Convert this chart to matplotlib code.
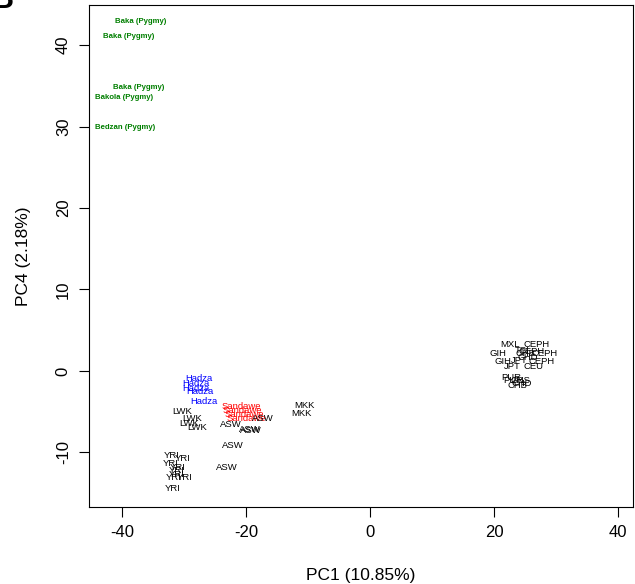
import matplotlib
matplotlib.use('Agg')
import matplotlib.pyplot as plt
from matplotlib.ticker import FuncFormatter

plt.rcParams['font.family'] = ['Liberation Sans', 'DejaVu Sans']

# PCA coordinates (PC1, PC4)
pygmy_labels = ['Baka (Pygmy)', 'Baka (Pygmy)', 'Baka (Pygmy)', 'Bakola (Pygmy)', 'Bedzan (Pygmy)']
pygmy_pc1 = [-36.9, -38.9, -37.3, -39.7, -39.4]
pygmy_pc4 = [42.9, 41.1, 34.8, 33.6, 29.9]

hadza_pc1 = [-27.6, -28.1, -28.1, -27.4, -26.8]
hadza_pc4 = [-0.9, -1.5, -2.1, -2.5, -3.7]

sandawe_pc1 = [-20.8, -20.6, -20.3, -20.0]
sandawe_pc4 = [-4.4, -4.8, -5.4, -5.8]

other_labels = ['LWK', 'LWK', 'LWK', 'LWK',
                'ASW', 'ASW', 'ASW', 'ASW', 'ASW', 'ASW',
                'MKK', 'MKK',
                'YRI', 'YRI', 'YRI', 'YRI', 'YRI', 'YRI', 'YRI', 'YRI', 'YRI',
                'MXL', 'CEPH', 'TSI', 'CEPH', 'CEPH', 'GIH', 'CHB', 'GIH', 'JPT',
                'CEPH', 'CHD', 'JPT', 'CEU', 'PUR', 'PUR', 'CHS', 'CHB', 'CHD']
other_pc1 = [-30.2, -28.7, -29.2, -27.9,
             -17.3, -22.4, -19.4, -19.2, -22.1, -23.1,
             -10.5, -11.1,
             -32.0, -30.2, -32.1, -31.0, -31.1, -31.1, -31.6, -29.8, -31.8,
             22.6, 26.8, 24.5, 26.1, 28.1, 20.6, 25.0, 21.4, 24.0,
             27.7, 25.5, 22.9, 26.3, 22.7, 23.1, 24.2, 23.8, 24.5]
other_pc4 = [-5.0, -5.8, -6.4, -7.0,
             -5.8, -6.6, -7.2, -7.3, -9.2, -11.8,
             -4.3, -5.2,
             -10.4, -10.8, -11.4, -11.9, -12.2, -12.7, -13.1, -13.1, -14.5,
             3.3, 3.3, 2.5, 2.4, 2.1, 2.1, 2.1, 1.2, 1.3,
             1.2, 1.6, 0.5, 0.5, -0.8, -1.2, -1.2, -1.8, -1.5]

fig = plt.figure(figsize=(6.35, 5.84), dpi=100)
ax = fig.add_axes([0.140, 0.132, 0.857, 0.859])

for lab, x, y in zip(pygmy_labels, pygmy_pc1, pygmy_pc4):
    ax.text(x, y, lab, color='#007f00', fontsize=5.6, fontweight='bold',
            ha='center', va='center')
for x, y in zip(hadza_pc1, hadza_pc4):
    ax.text(x, y, 'Hadza', color='#0000ff', fontsize=6.8, ha='center', va='center')
for x, y in zip(sandawe_pc1, sandawe_pc4):
    ax.text(x, y, 'Sandawe', color='#ff0000', fontsize=6.8, ha='center', va='center')
for lab, x, y in zip(other_labels, other_pc1, other_pc4):
    ax.text(x, y, lab, color='black', fontsize=6.8, ha='center', va='center')

ax.set_xlim(-45.3, 42.4)
ax.set_ylim(-16.7, 44.9)
ax.set_xticks([-40, -20, 0, 20, 40])
ax.set_yticks([-10, 0, 10, 20, 30, 40])
hyphen = FuncFormatter(lambda v, p: '%d' % v)
ax.xaxis.set_major_formatter(hyphen)
ax.yaxis.set_major_formatter(hyphen)
ax.tick_params(direction='out', length=7, width=0.8, labelsize=12, pad=6)
for lbl in ax.get_yticklabels():
    lbl.set_rotation(90)
    lbl.set_va('center')
for s in ax.spines.values():
    s.set_linewidth(0.8)

ax.set_xlabel('PC1 (10.85%)', fontsize=12.5, labelpad=20)
ax.set_ylabel('PC4 (2.18%)', fontsize=12.5, labelpad=18)

# panel letter, mostly cut off at the top-left corner
fig.text(14 / 635, 1 - 8 / 584, 'B', fontsize=22, fontweight='bold',
         ha='right', va='baseline')

fig.savefig('out.png', dpi=100)
